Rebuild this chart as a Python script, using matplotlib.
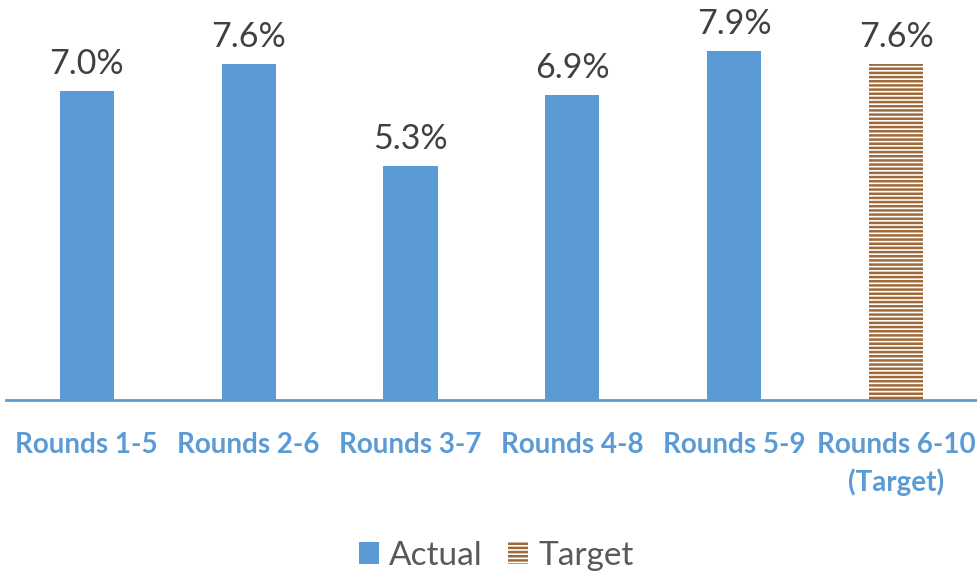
import matplotlib
matplotlib.use("Agg")
import matplotlib.pyplot as plt
from matplotlib.patches import Patch

categories = ["Rounds 1-5", "Rounds 2-6", "Rounds 3-7", "Rounds 4-8", "Rounds 5-9", "Rounds 6-10\n(Target)"]
values = [7.0, 7.6, 5.3, 6.9, 7.9, 7.6]
is_target = [False, False, False, False, False, True]
value_labels = ["7.0%", "7.6%", "5.3%", "6.9%", "7.9%", "7.6%"]

blue = "#5B9BD5"
brown = "#A0693A"
plt.rcParams['hatch.linewidth'] = 1.8
plt.rcParams['font.family'] = ['Lato', 'DejaVu Sans']

fig = plt.figure(figsize=(9.77, 5.73), dpi=100)
ax = fig.add_axes([0.006, 0.302, 0.994, 0.698])

x = list(range(len(categories)))
for xi, v, t in zip(x, values, is_target):
    if t:
        ax.bar(xi, v, width=0.335, facecolor="white", edgecolor=brown, hatch="----", linewidth=0)
    else:
        ax.bar(xi, v, width=0.335, color=blue, linewidth=0)

for xi, v, lab in zip(x, values, value_labels):
    ax.text(xi, v + 0.25, lab, ha="center", va="bottom", fontsize=24.5, color="#404040")

ax.set_xlim(-0.5, len(categories) - 0.5)
ax.set_ylim(0, 9.05)
ax.set_yticks([])
ax.set_xticks(x)
ax.set_xticklabels(categories, fontsize=20, fontweight="bold", color=blue, linespacing=1.45)
ax.tick_params(axis="x", length=0, pad=23)
for s in ["top", "right", "left"]:
    ax.spines[s].set_visible(False)
ax.spines["bottom"].set_color(blue)
ax.spines["bottom"].set_linewidth(2)

handles = [Patch(facecolor=blue, edgecolor="none", label="Actual"),
           Patch(facecolor="white", edgecolor=brown, hatch="----", linewidth=0, label="Target")]
leg = fig.legend(handles=handles, loc="center", bbox_to_anchor=(0.508, 0.03), ncol=2, frameon=False,
                 fontsize=24, handlelength=0.6, handleheight=0.6, handletextpad=0.3, columnspacing=0.75)
for t in leg.get_texts():
    t.set_color("#595959")

fig.savefig("out.png", dpi=100)
